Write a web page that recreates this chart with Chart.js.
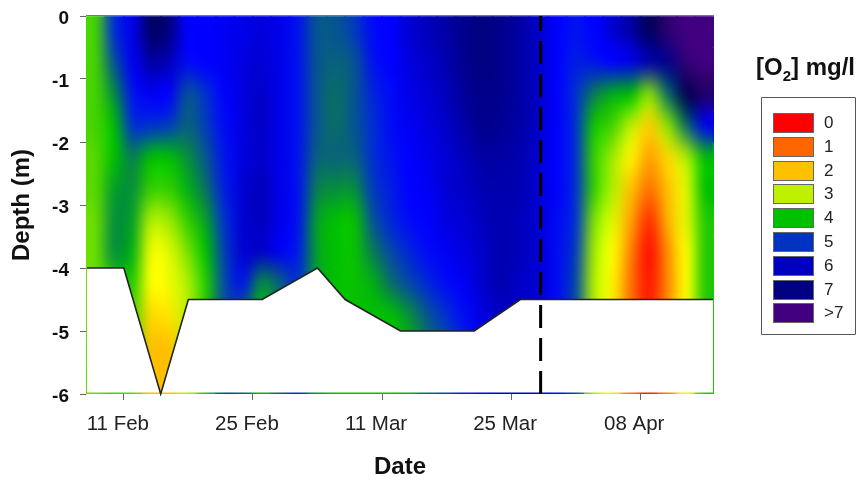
<!DOCTYPE html>
<html><head><meta charset="utf-8">
<script src="https://cdn.jsdelivr.net/npm/chart.js@4/dist/chart.umd.min.js"></script>
<style>
html,body{margin:0;padding:0;background:#fff;font-family:"Liberation Sans",Arial,sans-serif;}
#wrap{position:relative;width:859px;height:481px;overflow:hidden;}
canvas{position:absolute;left:0;top:0;}
#ltitle{position:absolute;left:756px;top:52px;font-weight:bold;font-size:24px;line-height:29px;color:#111;white-space:nowrap;}
#ltitle sub{font-size:15px;line-height:0;}
#lbox{position:absolute;left:761px;top:97px;width:95px;height:238px;border:1.5px solid #555;box-sizing:border-box;border-radius:1px;}
.sw{position:absolute;left:773px;width:41px;height:20px;box-sizing:border-box;border:1px solid #666;}
.lb{position:absolute;left:824px;font-size:17px;color:#222;line-height:20px;}
</style></head>
<body><div id="wrap"><canvas id="c" width="859" height="481"></canvas>
<div id="ltitle">[O<sub>2</sub>] mg/l</div><div id="lbox"></div></div>
<script>
// Days after 11 Feb, one entry per column of the section
const days = [-3,-1,1,3,5,7,9,11,13,15,17,19,21,23,25,27,29,31,33,35,37,39,41,43,45,47,49,51,53,55,57,59,61,63];
// Depth layers (top, bottom) in metres
const depthTops = [0,-0.5,-1,-1.5,-2,-2.5,-3,-3.5,-4,-4.5,-5,-5.5];
// O2 mg/l: one row per day, one value per depth layer
const o2ByDay = [
 [3.6,3.6,3.6,3.6,3.5,3.5,3.4,3.4,3.4,3.4,3.4,3.4],
 [5.0,4.7,4.3,4.0,4.0,4.2,4.3,4.3,3.8,3.8,3.6,3.6],
 [5.7,5.6,5.3,5.0,4.4,4.3,4.2,4.1,3.8,3.6,3.5,3.5],
 [6.8,6.3,5.6,5.0,4.0,3.7,3.0,2.6,2.5,2.2,2.0,2.0],
 [6.6,6.1,5.5,4.9,4.0,3.7,3.1,2.7,2.6,2.3,2.0,2.0],
 [5.5,5.4,4.7,4.6,4.3,4.1,3.7,3.3,3.0,3.0,3.0,3.0],
 [5.5,5.5,5.0,4.9,4.7,4.5,4.2,4.0,3.8,3.8,3.8,3.8],
 [5.6,5.6,5.5,5.4,5.3,5.2,5.0,4.9,4.8,4.8,4.8,4.8],
 [5.7,5.8,5.8,5.8,5.8,5.9,5.9,5.9,5.3,4.6,4.6,4.6],
 [5.8,5.9,6.0,6.0,6.0,6.1,6.1,6.0,4.3,4.0,4.0,4.0],
 [5.7,5.7,5.7,5.7,5.7,5.7,5.7,5.6,4.6,4.6,4.6,4.6],
 [5.3,5.3,5.3,5.3,5.3,5.3,5.3,5.2,5.0,5.0,5.0,5.0],
 [4.7,4.7,4.7,4.7,4.6,4.4,4.2,4.2,4.2,4.2,4.2,4.2],
 [4.7,4.6,4.5,4.5,4.6,4.3,4.0,4.0,4.0,4.0,4.0,4.0],
 [4.9,4.7,4.7,4.7,4.6,4.3,3.95,3.95,3.95,4.0,4.0,4.0],
 [5.4,5.3,5.1,5.0,5.0,4.9,4.7,4.4,4.1,4.0,4.0,4.0],
 [5.5,5.5,5.4,5.4,5.3,5.2,5.1,4.8,4.5,4.0,4.0,4.0],
 [5.9,5.8,5.7,5.6,5.5,5.5,5.4,5.1,4.8,4.3,4.1,4.1],
 [6.1,6.0,5.9,5.8,5.7,5.6,5.5,5.4,5.1,4.7,4.5,4.5],
 [6.3,6.2,6.1,6.0,5.9,5.9,5.8,5.6,5.4,5.0,4.8,4.8],
 [6.5,6.5,6.4,6.3,6.1,6.0,5.9,5.8,5.6,5.4,5.2,5.2],
 [6.6,6.6,6.5,6.5,6.3,6.2,6.1,6.0,6.0,5.8,5.6,5.6],
 [6.5,6.5,6.5,6.4,6.3,6.2,6.2,6.2,6.2,6.0,6.0,6.0],
 [6.3,6.3,6.3,6.3,6.2,6.2,6.1,6.1,6.0,6.0,6.0,6.0],
 [6.0,6.0,6.0,6.0,5.9,5.9,5.9,5.9,5.9,5.9,5.9,5.9],
 [5.5,5.5,5.5,5.5,5.5,5.5,5.4,5.4,5.4,5.4,5.4,5.4],
 [5.3,5.2,5.0,5.0,5.0,5.0,5.0,4.9,4.8,4.8,4.8,4.8],
 [5.5,5.3,4.4,3.9,3.7,3.7,3.3,3.1,3.0,3.0,3.0,3.0],
 [5.9,5.5,4.1,3.6,3.1,3.0,2.7,2.5,2.4,2.4,2.4,2.4],
 [6.3,5.7,4.0,2.9,2.4,2.0,1.6,1.2,1.0,1.0,1.0,1.0],
 [6.9,6.2,3.2,2.1,1.6,1.0,0.4,0.1,0.2,0.2,0.2,0.2],
 [7.7,6.5,4.5,3.2,2.2,2.0,1.8,1.4,1.3,1.3,1.3,1.3],
 [8.0,7.8,7.0,4.5,3.0,2.7,2.7,2.5,2.5,2.5,2.5,2.5],
 [8.0,8.0,7.5,5.6,4.0,4.0,3.8,3.8,3.8,3.8,3.8,3.8]
];
// Lower limit of the section (water-column bottom)
const bottomDays  = [-4.0,0,4,7,15,21,24,30,38,43,63.9];
const bottomDepth = [-4,-4,-6,-4.5,-4.5,-4,-4.5,-5,-5,-4.5,-4.5];
// Dashed event marker
const markerDay = [45.2,45.2];
const markerDepth = [-6,0];
// Axis ticks
const xTickDays = [0,14,28,42,56];
const xTickLabels = ['11 Feb','25 Feb','11 Mar','25 Mar','08 Apr'];
// Legend
const legendLabels = ['0','1','2','3','4','5','6','7','>7'];
const legendColors = ['#ff0000','#ff6600','#ffc000','#bff000','#00c000','#0033c0','#0000c0','#000080','#400080'];
// Colour ramp: value, r, g, b
const ramp = [[0,255,0,0],[1,255,112,0],[2,255,192,0],[2.5,255,255,0],[3,176,240,0],[4,0,192,0],[4.5,10,110,100],[5,0,48,208],[5.5,0,0,255],[6,0,0,200],[6.5,0,0,140],[7,0,0,80],[8,64,0,128]];

function colorFor(v){
  for(let i=1;i<ramp.length;i++){
    if(v<=ramp[i][0]){
      const a=ramp[i-1],b=ramp[i],t=(v-a[0])/(b[0]-a[0]);
      return 'rgb('+[1,2,3].map(k=>Math.round(a[k]+(b[k]-a[k])*t)).join(',')+')';
    }
  }
  const l=ramp[ramp.length-1];return 'rgb('+l[1]+','+l[2]+','+l[3]+')';
}
const heatDatasets = depthTops.map((top,r)=>({
  type:'bar',order:2,grouped:false,barPercentage:1.1,categoryPercentage:1,borderWidth:0,
  data:days.map((d,c)=>({x:d,y:[top-0.5,top]})),
  backgroundColor:days.map((d,c)=>colorFor(o2ByDay[c][r]))
}));
// Smooths the library-drawn cells: samples each cell's centre, then upscales with bilinear smoothing.
const smooth = {
  id:'smooth',
  afterDatasetDraw(chart,args){
    if(args.index!==0) return;
    const a=chart.chartArea,w=a.right-a.left,h=a.bottom-a.top;
    const nx=days.length,ny=depthTops.length;
    const t=document.createElement('canvas');t.width=nx;t.height=ny;
    const g=t.getContext('2d');g.imageSmoothingEnabled=false;
    g.drawImage(chart.canvas,a.left,a.top,w,h,0,0,nx,ny);
    const ctx=chart.ctx;ctx.save();
    ctx.beginPath();ctx.rect(a.left,a.top,w,h);ctx.clip();
    ctx.imageSmoothingEnabled=true;ctx.imageSmoothingQuality='high';
    ctx.filter='blur(1.5px)';ctx.drawImage(t,0,0,nx,ny,a.left,a.top,w,h);
    ctx.filter='none';ctx.restore();
  },
  afterDatasetsDraw(chart){
    const a=chart.chartArea,ctx=chart.ctx;ctx.save();
    ctx.strokeStyle='#777';ctx.lineWidth=1;ctx.beginPath();
    ctx.moveTo(a.left,a.top-0.5);ctx.lineTo(a.right,a.top-0.5);ctx.stroke();ctx.restore();
  }
};
new Chart(document.getElementById('c'),{
  data:{datasets:[...heatDatasets,
    {type:'line',order:1,data:bottomDays.map((d,i)=>({x:d,y:bottomDepth[i]})),borderColor:'#222',borderWidth:1.6,pointRadius:0,tension:0,
     fill:{value:-5.975},backgroundColor:'#ffffff',clip:false},
    {type:'line',order:0,data:markerDay.map((d,i)=>({x:d,y:markerDepth[i]})),borderColor:'#000',borderWidth:3,borderDash:[23,10],pointRadius:0,fill:false}
  ]},
  options:{
    responsive:false,animation:false,events:[],
    layout:{padding:{left:0,top:16,right:145,bottom:0}},
    plugins:{legend:{display:false},tooltip:{enabled:false}},
    scales:{
      x:{type:'linear',min:-4.1,max:64,offset:false,
        afterBuildTicks(s){s.ticks=xTickDays.map(v=>({value:v}));},
        afterFit(s){s.height=87;s.paddingLeft=0;s.paddingRight=0;},
        border:{display:false},
        grid:{offset:false,drawOnChartArea:false,drawTicks:true,tickLength:6,color:'#666'},
        ticks:{autoSkip:false,maxRotation:0,padding:12,labelOffset:-6,color:'#222',
          font:{family:'"Liberation Sans"',size:20.5},
          callback:v=>{const i=xTickDays.indexOf(v);return i<0?'':xTickLabels[i];}},
        title:{display:true,text:'Date',color:'#111',font:{family:'"Liberation Sans"',size:24,weight:'bold'},padding:{top:0,bottom:-1}}
      },
      y:{type:'linear',min:-6,max:0,
        afterFit(s){s.width=86;s.paddingTop=0;s.paddingBottom=0;},
        border:{display:false},
        grid:{drawOnChartArea:false,drawTicks:true,tickLength:6,color:'#666'},
        ticks:{stepSize:1,padding:11,labelOffset:2.5,color:'#111',font:{family:'"Liberation Sans"',size:19,weight:'bold'}},
        title:{display:true,text:'Depth (m)',color:'#111',font:{family:'"Liberation Sans"',size:24,weight:'bold'},padding:{top:8,bottom:0}}
      }
    }
  },
  plugins:[smooth]
});
const wrap=document.getElementById('wrap');
legendLabels.forEach((t,i)=>{
  const y=113+i*23.8;
  const s=document.createElement('div');s.className='sw';s.style.top=y+'px';s.style.background=legendColors[i];wrap.appendChild(s);
  const l=document.createElement('div');l.className='lb';l.style.top=y+'px';l.textContent=t;wrap.appendChild(l);
});
</script></body></html>
